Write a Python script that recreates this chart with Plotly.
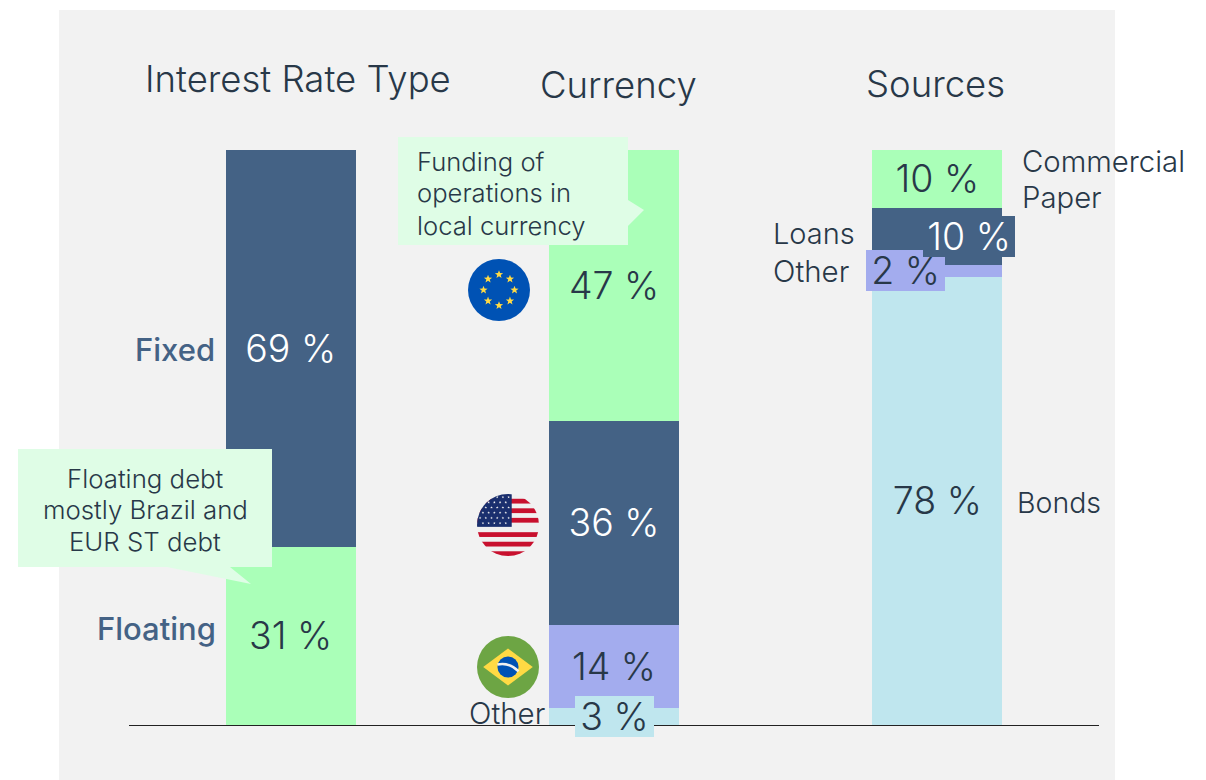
import base64, math
import plotly.graph_objects as go

# ---------- data ----------
groups = ["Interest Rate Type", "Currency", "Sources"]
level_1 = [31, 3, 78]
level_2 = [69, 14.4, 2]
level_3 = [0, 35.5, 10]
level_4 = [0, 47.1, 10]
text_1 = ["31 %", "", "78 %"]
text_2 = ["69 %", "14 %", ""]
text_3 = ["", "36 %", ""]
text_4 = ["", "47 %", "10 %"]

NAVY, GREEN, PERI, SKY = "#446285", "#AAFFB8", "#A3ACEE", "#BFE6EE"
INK, PANEL, CALLOUT = "#283848", "#F2F2F2", "#DFFDE6"
FONT = "Inter"
VALUE_SIZE = 37.5

W, H = 1206, 780
L, R, T, B = 129, 1099, 150, 725
px = lambda x: (x - L) / (R - L)
py = lambda y: (B - y) / (B - T)


def bar(values, colors, texts, tcolors):
    return go.Bar(x=groups, y=values, marker=dict(color=colors, line_width=0), text=texts,
                  textposition="inside", insidetextanchor="middle", textangle=0,
                  constraintext="none", cliponaxis=False, hoverinfo="skip",
                  textfont=dict(family=FONT, size=VALUE_SIZE, color=tcolors, weight=300), showlegend=False)


fig = go.Figure([
    bar(level_1, [GREEN, SKY, SKY], text_1, [INK, INK, INK]),
    bar(level_2, [NAVY, PERI, PERI], text_2, ["#FFFFFF", INK, INK]),
    bar(level_3, [NAVY, NAVY, NAVY], text_3, [INK, "#FFFFFF", INK]),
    bar(level_4, [GREEN, GREEN, GREEN], text_4, [INK, INK, INK]),
])


def label(x, y, s, size=29, color=INK, anchor="left", weight=300):
    fig.add_annotation(xref="paper", yref="paper", x=px(x), y=py(y), text=s,
                       showarrow=False, xanchor=anchor, yanchor="middle", borderpad=0, borderwidth=0,
                       align=anchor, font=dict(family=FONT, size=size, color=color, weight=weight))


def box(group, y, s, w, h, bg, color, xshift=0):
    fig.add_annotation(xref="x", yref="y", x=group, y=y, text=s, showarrow=False, width=w, height=h,
                       xshift=xshift, bgcolor=bg, borderpad=0, borderwidth=0, align="center", valign="middle",
                       font=dict(family=FONT, size=VALUE_SIZE, color=color, weight=300))


# titles
label(298, 79, groups[0], 36.5, anchor="center")
label(618, 85, groups[1], 36.5, anchor="center")
label(935, 84, groups[2], 36.5, anchor="center")
# side labels
label(215, 349, "Fixed", 31, NAVY, "right", 500)
label(216, 628, "Floating", 31, NAVY, "right", 500)
label(545, 713, "Other", 29.5, anchor="right")
label(773, 234, "Loans", 29)
label(773, 271, "Other", 29.5)
label(1022, 162, "Commercial", 29.3)
label(1022, 197, "Paper", 29.3)
label(1017, 502, "Bonds", 28.5)
# callout texts
for y, s in zip((161, 193, 225), ("Funding of", "operations in", "local currency")):
    label(417, y, s, 25.6)
for y, s in zip((479, 510, 541), ("Floating debt", "mostly Brazil and", "EUR ST debt")):
    label(145, y, s, 25.8, anchor="center")
# boxed values
box("Currency", level_1[1] / 2, "3 %", 79, 41, SKY, INK)
box("Sources", level_1[2] + level_2[2] / 2, "2 %", 79, 41, PERI, INK, -32)
box("Sources", level_1[2] + level_2[2] + level_3[2] / 2, "10 %", 92, 41, NAVY, "#FFFFFF", 32)


def poly(pts):
    return "M " + " L ".join(f"{px(x):.5f},{py(y):.5f}" for x, y in pts) + " Z"


shapes = [
    dict(type="rect", xref="paper", yref="paper", x0=px(59), x1=px(1115), y0=py(780), y1=py(10),
         fillcolor=PANEL, line_width=0, layer="below"),
    dict(type="path", xref="paper", yref="paper", layer="above", fillcolor=CALLOUT, line_width=0,
         path=poly([(398, 137), (628, 137), (628, 200), (644, 210), (628, 226), (628, 245), (398, 245)])),
    dict(type="path", xref="paper", yref="paper", layer="above", fillcolor=CALLOUT, line_width=0,
         path=poly([(18, 449), (272, 449), (272, 567), (230, 567), (251, 584), (167, 567), (18, 567)])),
]


def uri(body):
    svg = f'<svg xmlns="http://www.w3.org/2000/svg" viewBox="0 0 100 100"><defs><clipPath id="c"><circle cx="50" cy="50" r="50"/></clipPath></defs><g clip-path="url(#c)">{body}</g></svg>'
    return "data:image/svg+xml;base64," + base64.b64encode(svg.encode()).decode()


def star(cx, cy, r, fill):
    p = []
    for i in range(10):
        a = -math.pi / 2 + i * math.pi / 5
        q = r if i % 2 == 0 else r * 0.42
        p.append(f"{cx + q * math.cos(a):.2f},{cy + q * math.sin(a):.2f}")
    return f'<polygon points="{" ".join(p)}" fill="{fill}"/>'


eu = '<rect width="100" height="100" fill="#0052B4"/>' + "".join(
    star(50 + 25 * math.cos(i * math.pi / 4), 50 + 25 * math.sin(i * math.pi / 4), 7, "#FFDA44") for i in range(8))
us = '<rect width="100" height="100" fill="#F0F0F0"/>' + "".join(
    f'<rect y="{y}" width="100" height="7.7" fill="#C8102E"/>' for y in (7.7, 23.1, 38.5, 61.6, 77, 92.4)
) + '<rect width="56" height="53" fill="#1A2F6E"/>' + "".join(
    star(5 + c * 9.2 + (4.6 if r % 2 else 0), 5 + r * 8.4, 2.2, "#F0F0F0") for r in range(6) for c in range(6 - r % 2))
br = ('<rect width="100" height="100" fill="#6DA544"/><polygon points="50,20 90,50 50,80 10,50" fill="#FFDA44"/>'
      '<circle cx="50" cy="50" r="17" fill="#0052B4"/>'
      '<path d="M33 46 Q52 42 67 57" stroke="#F0F0F0" stroke-width="4" fill="none"/>')


def flag(cx, cy, body):
    return dict(source=uri(body), xref="paper", yref="paper", x=px(cx - 31), y=py(cy - 31),
                sizex=62 / (R - L), sizey=62 / (B - T), xanchor="left", yanchor="top", layer="above",
                sizing="stretch")


fig.update_layout(
    width=W, height=H, autosize=False, barmode="stack", bargap=1 - 130 / 323.33,
    margin=dict(l=L, r=W - R, t=T, b=H - B), paper_bgcolor="#FFFFFF", plot_bgcolor="rgba(0,0,0,0)",
    shapes=shapes, images=[flag(499, 290, eu), flag(508, 525, us), flag(508, 667, br)],
    xaxis=dict(showticklabels=False, ticks="", showgrid=False, zeroline=False, showline=True,
               linecolor="#222222", linewidth=1, fixedrange=True),
    yaxis=dict(range=[0, 100], visible=False, showgrid=False, fixedrange=True),
)
fig.write_html("out.html", config={"displayModeBar": False},
               post_script="document.body.style.margin='0';")
